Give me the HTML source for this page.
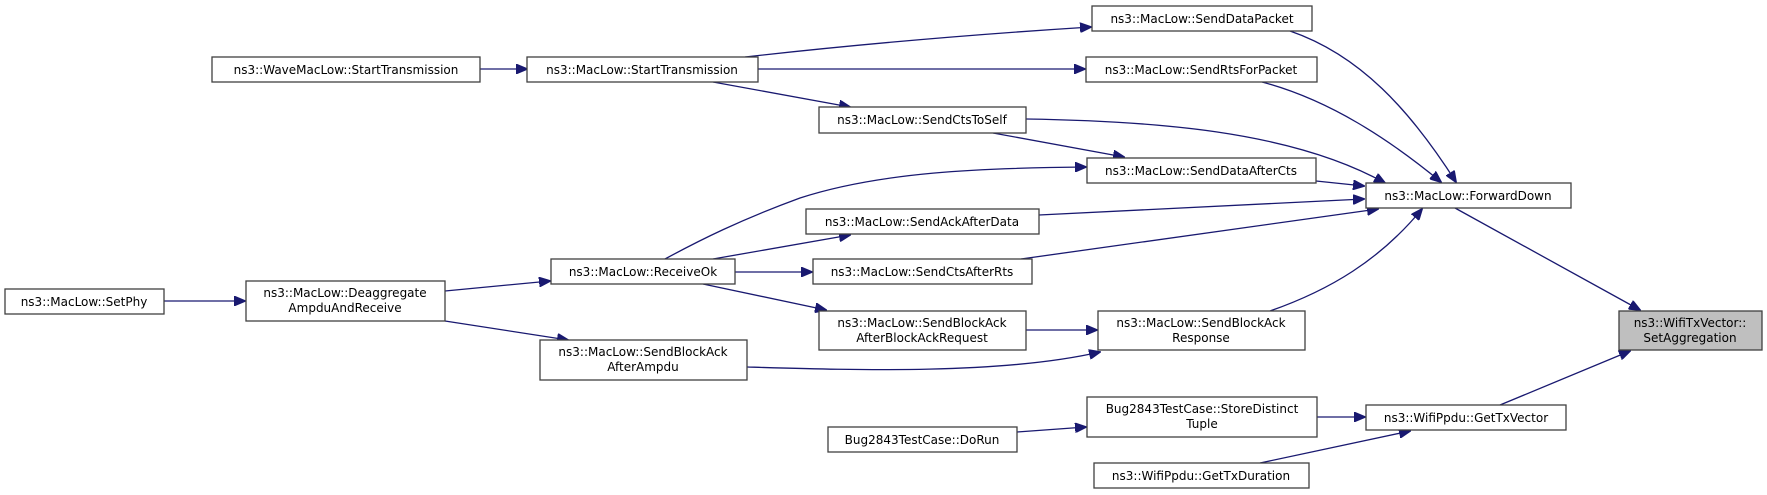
<!DOCTYPE html>
<html><head><meta charset="utf-8"><style>
html,body{margin:0;padding:0;background:#fff;}
svg{display:block;}
text{font-family:"DejaVu Sans","Liberation Sans",sans-serif;font-size:12px;fill:#000;}
.b{fill:#fff;stroke:#404040;stroke-width:1.3;}
.e{fill:none;stroke:#191970;stroke-width:1.3;}
</style></head><body>
<svg width="1767" height="495" viewBox="0 0 1767 495" xmlns="http://www.w3.org/2000/svg">
<defs><marker id="a" markerWidth="12" markerHeight="10" refX="11" refY="5" orient="auto" markerUnits="userSpaceOnUse"><path d="M0,0 L12,5 L0,10 z" fill="#191970" stroke="#191970"/></marker></defs>

<g class="e" marker-end="url(#a)">
<path d="M480,69 L527,69"/>
<path d="M745,57 C860,44 980,34 1091,27"/>
<path d="M758,69 L1085,69"/>
<path d="M713,82 L850,107"/>
<path d="M164,301 L245,301"/>
<path d="M445,291 L550,281"/>
<path d="M445,321 L568,340"/>
<path d="M665,259 C700,240 740,220 800,198 C880,172 980,168 1086,167"/>
<path d="M713,259 L850,235"/>
<path d="M735,272 L812,272"/>
<path d="M703,284 L826,310"/>
<path d="M993,133 L1124,157"/>
<path d="M1026,119 C1150,121 1290,130 1385,183"/>
<path d="M1290,31 C1360,55 1410,110 1456,182"/>
<path d="M1262,82 C1330,100 1390,140 1441,182"/>
<path d="M1316,181 L1364,186"/>
<path d="M1039,215 L1364,199"/>
<path d="M1021,259 L1378,209"/>
<path d="M1270,311 C1330,290 1380,260 1422,209"/>
<path d="M1026,330 L1097,330"/>
<path d="M747,367 C850,370 1000,375 1100,352"/>
<path d="M1455,208 L1640,310"/>
<path d="M1500,405 L1630,351"/>
<path d="M1317,417 L1365,417"/>
<path d="M1017,432 L1086,427"/>
<path d="M1260,463 L1410,431"/>
</g>

<rect class="b" x="212" y="57" width="268" height="25"/><text x="346" y="74" text-anchor="middle">ns3::WaveMacLow::StartTransmission</text>
<rect class="b" x="527" y="57" width="231" height="25"/><text x="642" y="74" text-anchor="middle">ns3::MacLow::StartTransmission</text>
<rect class="b" x="1092" y="6" width="220" height="25"/><text x="1202" y="23" text-anchor="middle">ns3::MacLow::SendDataPacket</text>
<rect class="b" x="1086" y="57" width="231" height="25"/><text x="1201" y="74" text-anchor="middle">ns3::MacLow::SendRtsForPacket</text>
<rect class="b" x="819" y="107" width="207" height="26"/><text x="922" y="124" text-anchor="middle">ns3::MacLow::SendCtsToSelf</text>
<rect class="b" x="1087" y="158" width="229" height="25"/><text x="1201" y="175" text-anchor="middle">ns3::MacLow::SendDataAfterCts</text>
<rect class="b" x="806" y="209" width="233" height="25"/><text x="922" y="226" text-anchor="middle">ns3::MacLow::SendAckAfterData</text>
<rect class="b" x="551" y="259" width="184" height="25"/><text x="643" y="276" text-anchor="middle">ns3::MacLow::ReceiveOk</text>
<rect class="b" x="813" y="259" width="219" height="25"/><text x="922" y="276" text-anchor="middle">ns3::MacLow::SendCtsAfterRts</text>
<rect class="b" x="819" y="311" width="207" height="39"/><text x="922" y="327" text-anchor="middle">ns3::MacLow::SendBlockAck</text><text x="922" y="342" text-anchor="middle">AfterBlockAckRequest</text>
<rect class="b" x="540" y="340" width="207" height="40"/><text x="643" y="356" text-anchor="middle">ns3::MacLow::SendBlockAck</text><text x="643" y="371" text-anchor="middle">AfterAmpdu</text>
<rect class="b" x="1098" y="311" width="207" height="39"/><text x="1201" y="327" text-anchor="middle">ns3::MacLow::SendBlockAck</text><text x="1201" y="342" text-anchor="middle">Response</text>
<rect class="b" x="5" y="289" width="159" height="25"/><text x="84" y="306" text-anchor="middle">ns3::MacLow::SetPhy</text>
<rect class="b" x="246" y="281" width="199" height="40"/><text x="345" y="297" text-anchor="middle">ns3::MacLow::Deaggregate</text><text x="345" y="312" text-anchor="middle">AmpduAndReceive</text>
<rect class="b" x="1366" y="183" width="205" height="25"/><text x="1468" y="200" text-anchor="middle">ns3::MacLow::ForwardDown</text>
<rect x="1619" y="311" width="143" height="39" fill="#bfbfbf" stroke="#404040" stroke-width="1.3"/><text x="1690" y="327" text-anchor="middle">ns3::WifiTxVector::</text><text x="1690" y="342" text-anchor="middle">SetAggregation</text>
<rect class="b" x="1087" y="397" width="230" height="40"/><text x="1202" y="413" text-anchor="middle">Bug2843TestCase::StoreDistinct</text><text x="1202" y="428" text-anchor="middle">Tuple</text>
<rect class="b" x="828" y="427" width="189" height="25"/><text x="922" y="444" text-anchor="middle">Bug2843TestCase::DoRun</text>
<rect class="b" x="1366" y="405" width="200" height="25"/><text x="1466" y="422" text-anchor="middle">ns3::WifiPpdu::GetTxVector</text>
<rect class="b" x="1094" y="463" width="215" height="25"/><text x="1201" y="480" text-anchor="middle">ns3::WifiPpdu::GetTxDuration</text>
</svg>
</body></html>
